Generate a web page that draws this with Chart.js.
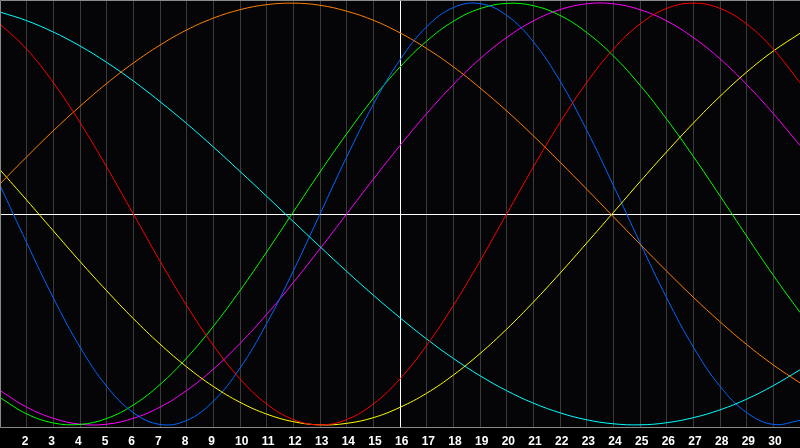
<!DOCTYPE html>
<html>
<head>
<meta charset="utf-8">
<script src="https://cdn.jsdelivr.net/npm/chart.js@4.4.1/dist/chart.umd.min.js"></script>
<style>
  html, body { margin: 0; padding: 0; background: #000; }
  #wrap { width: 800px; height: 448px; }
</style>
</head>
<body>
<div id="wrap"><canvas id="bioChart" width="800" height="448"></canvas></div>
<script>
// days of the month shown on the x axis
var days = [];
for (var d = 1; d <= 31; d++) days.push(d);

// curve values per day (-100 .. 100)
var redData = [90.1, 78.2, 62.3, 43.4, 22.3, 0, -22.3, -43.4, -62.3, -78.2, -90.1, -97.5, -100, -97.5, -90.1, -78.2, -62.3, -43.4, -22.3, 0, 22.3, 43.4, 62.3, 78.2, 90.1, 97.5, 100, 97.5, 90.1, 78.2, 62.3];
var orangeData = [14.3, 27.1, 39.5, 51.1, 61.9, 71.6, 80.1, 87.3, 92.9, 96.9, 99.3, 100, 99.0, 96.2, 91.9, 85.9, 78.5, 69.8, 59.8, 48.9, 37.1, 24.6, 11.8, -1.3, -14.3, -27.1, -39.5, -51.1, -61.9, -71.6, -80.1];
var cyanData = [95.8, 91.7, 86.3, 79.7, 71.9, 63.1, 53.3, 42.9, 31.8, 20.2, 8.4, -3.6, -15.5, -27.2, -38.5, -49.2, -59.3, -68.5, -76.7, -83.8, -89.7, -94.3, -97.6, -99.5, -100, -99.0, -96.6, -92.9, -87.8, -81.4, -73.9];
var yellowData = [21.0, 6.6, -8.0, -22.5, -36.4, -49.6, -61.7, -72.5, -81.8, -89.3, -94.9, -98.5, -100, -99.3, -96.6, -91.7, -85.0, -76.4, -66.2, -54.6, -41.8, -28.1, -13.8, 0.7, 15.3, 29.5, 43.1, 55.8, 67.3, 77.3, 85.7];
var blueData = [13.6, -13.6, -39.8, -63.1, -81.7, -94.2, -99.8, -97.9, -88.8, -73.1, -52.0, -27.0, 0, 27.0, 52.0, 73.1, 88.8, 97.9, 99.8, 94.2, 81.7, 63.1, 39.8, 13.6, -13.6, -39.8, -63.1, -81.7, -94.2, -99.8, -97.9];
var greenData = [-87.1, -94.8, -99.1, -99.8, -97.0, -90.6, -80.9, -68.3, -53.3, -36.3, -18.0, 1.0, 19.9, 38.0, 54.9, 69.7, 82.0, 91.4, 97.4, 99.9, 98.8, 94.2, 86.1, 75.0, 61.1, 45.0, 27.3, 8.6, -10.5, -29.1, -46.7];
var magentaData = [-83.7, -91.6, -96.9, -99.7, -99.7, -96.9, -91.6, -83.7, -73.6, -61.4, -47.6, -32.5, -16.5, 0, 16.5, 32.5, 47.6, 61.4, 73.6, 83.7, 91.6, 96.9, 99.7, 99.7, 96.9, 91.6, 83.7, 73.6, 61.4, 47.6, 32.5];

var todayLine = 16;

function line(data, color) {
    return {
        data: data,
        borderColor: color,
        borderWidth: 1,
        pointRadius: 0,
        tension: 0.4,
        fill: false
    };
}

// black page, dark plot area and a grey frame (left, top, bottom)
var framePlugin = {
    id: 'frame',
    beforeDraw: function (chart) {
        var c = chart.ctx, a = chart.chartArea;
        c.save();
        c.fillStyle = '#000000';
        c.fillRect(0, 0, chart.width, chart.height);
        c.fillStyle = '#050508';
        c.fillRect(a.left, a.top, a.right - a.left, a.bottom - a.top);
        c.restore();
    },
    afterDraw: function (chart) {
        var c = chart.ctx, a = chart.chartArea;
        c.save();
        c.strokeStyle = '#8a8a8a';
        c.lineWidth = 1;
        c.beginPath();
        c.moveTo(a.right, a.top + 0.5);
        c.lineTo(a.left + 0.5, a.top + 0.5);
        c.lineTo(a.left + 0.5, a.bottom - 0.5);
        c.lineTo(a.right, a.bottom - 0.5);
        c.stroke();
        c.restore();
    }
};

var ctx = document.getElementById('bioChart').getContext('2d');
var bioChart = new Chart(ctx, {
    type: 'line',
    data: {
        labels: days,
        datasets: [
            line(redData, '#ff0000'),
            line(orangeData, '#ff8000'),
            line(cyanData, '#00ffff'),
            line(yellowData, '#ffff00'),
            line(blueData, '#0066ff'),
            line(greenData, '#00ff00'),
            line(magentaData, '#ff00ff')
        ]
    },
    options: {
        responsive: false,
        animation: false,
        devicePixelRatio: 1,
        layout: { padding: 0 },
        plugins: { legend: { display: false }, tooltip: { enabled: false } },
        scales: {
            x: {
                type: 'linear',
                min: 1,
                max: 31,
                afterFit: function (scale) { scale.height = 20; },
                border: { display: false },
                grid: {
                    drawTicks: true,
                    tickLength: 6,
                    tickColor: 'rgba(0,0,0,0)',
                    color: function (c) {
                        if (c.tick.value === todayLine) return '#ffffff';
                        if (c.tick.value === 1 || c.tick.value === 31) return 'rgba(0,0,0,0)';
                        return '#3a3a3a';
                    }
                },
                ticks: {
                    stepSize: 1,
                    autoSkip: false,
                    maxRotation: 0,
                    align: 'start',
                    labelOffset: -5,
                    padding: 0,
                    color: '#ffffff',
                    font: { family: 'Liberation Sans', size: 12, weight: 'bold' },
                    callback: function (v) { return (v === 1 || v === 31) ? '' : v; }
                }
            },
            y: {
                min: -101.5,
                max: 101.5,
                afterFit: function (scale) { scale.width = 0; },
                border: { display: false },
                grid: {
                    drawTicks: false,
                    color: function (c) { return c.tick.value === 0 ? '#ffffff' : 'rgba(0,0,0,0)'; }
                },
                ticks: { display: false, stepSize: 50, padding: 0 }
            }
        }
    },
    plugins: [framePlugin]
});
</script>
</body>
</html>
